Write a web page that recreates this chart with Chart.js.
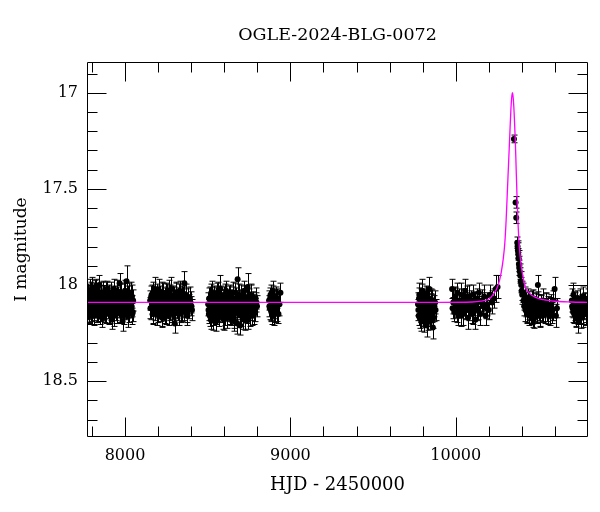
<!DOCTYPE html>
<html>
<head>
<meta charset="utf-8">
<title>OGLE-2024-BLG-0072</title>
<script src="https://cdn.jsdelivr.net/npm/chart.js@4.4.1/dist/chart.umd.min.js"></script>
<style>
  html, body { margin: 0; padding: 0; background: #fff; }
  canvas { display: block; }
</style>
</head>
<body>
<canvas id="lightCurve" width="600" height="512"></canvas>
<script>
// photometry, season by season (HJD - 2450000, I mag, error)
const hjd = [
  // 2017
  7772, 7776, 7779, 7783, 7786, 7790, 7794, 7797, 7801, 7805,
  7808, 7812, 7815, 7819, 7823, 7826, 7830, 7834, 7838, 7841,
  7845, 7849, 7853, 7857, 7861, 7865, 7869, 7873, 7878, 7882,
  7886, 7891, 7896, 7900, 7905, 7910, 7915, 7920, 7926, 7931,
  7937, 7943, 7949, 7955, 7961, 7967, 7973, 7979, 7985, 7991,
  7997, 8003, 8009, 8015, 8021, 8027, 8033, 8038, 8042, 8047,
  // 2018
  8152, 8157, 8161, 8166, 8170, 8175, 8179, 8184, 8188, 8193,
  8197, 8202, 8206, 8211, 8215, 8220, 8224, 8229, 8233, 8238,
  8242, 8247, 8251, 8256, 8261, 8266, 8271, 8276, 8281, 8286,
  8291, 8296, 8301, 8306, 8311, 8316, 8321, 8326, 8331, 8336,
  8341, 8347, 8353, 8359, 8365, 8371, 8377, 8384, 8392, 8402,
  // 2019
  8503, 8507, 8511, 8515, 8519, 8523, 8527, 8531, 8535, 8539,
  8543, 8547, 8551, 8555, 8559, 8563, 8567, 8571, 8576, 8581,
  8586, 8591, 8596, 8601, 8606, 8611, 8616, 8621, 8626, 8631,
  8636, 8641, 8646, 8651, 8656, 8661, 8666, 8671, 8676, 8681,
  8686, 8691, 8696, 8701, 8706, 8711, 8716, 8721, 8726, 8731,
  8736, 8741, 8746, 8752, 8758, 8764, 8770, 8777, 8785, 8795,
  // 2020
  8871, 8876, 8880, 8885, 8889, 8894, 8898, 8903, 8907, 8912,
  8917, 8922, 8928, 8934, 8940,
  // 2022
  9772, 9776, 9780, 9784, 9788, 9792, 9796, 9800, 9804, 9808,
  9812, 9816, 9820, 9824, 9828, 9832, 9836, 9840, 9844, 9848,
  9852, 9857, 9862, 9868, 9875,
  // 2023
  9978, 9985, 9991, 9997, 10003, 10009, 10015, 10021, 10027, 10033,
  10039, 10045, 10051, 10057, 10063, 10069, 10075, 10081, 10087, 10093,
  10099, 10105, 10112, 10119, 10126, 10133, 10140, 10148, 10156, 10164,
  10172, 10181, 10190, 10200, 10210, 10220, 10231, 10242, 10253,
  // 2024 (event)
  10352, 10362, 10366, 10372, 10374, 10376, 10378, 10380, 10382, 10384,
  10387, 10390, 10393, 10396, 10399, 10402, 10406, 10410, 10414, 10418,
  10422, 10426, 10431, 10436, 10441, 10446, 10451, 10456, 10461, 10467,
  10473, 10479, 10485, 10491, 10497, 10503, 10509, 10515, 10521, 10527,
  10533, 10540, 10547, 10554, 10561, 10568, 10575, 10582, 10590, 10598,
  10606, 10612,
  // 2025
  10702, 10707, 10712, 10717, 10722, 10727, 10732, 10737, 10742, 10747,
  10752, 10757, 10762, 10767, 10772, 10777, 10782, 10787, 10792, 10797
];

const imag = [
  18.06, 18.12, 18.09, 18.15, 18.03, 18.10, 18.07, 18.13, 18.01, 18.11,
  18.08, 18.16, 18.05, 18.09, 18.12, 18.02, 18.10, 18.14, 18.06, 18.11,
  18.00, 18.08, 18.13, 18.07, 18.17, 18.04, 18.10, 18.12, 18.06, 18.09,
  18.14, 18.03, 18.11, 18.08, 18.05, 18.13, 18.10, 18.18, 18.07, 18.02,
  18.12, 18.09, 18.15, 18.06, 18.11, 17.99, 18.14, 18.08, 18.19, 18.05,
  18.10, 18.13, 17.98, 18.16, 18.04, 18.11, 18.09, 18.12, 18.06, 18.14,

  18.08, 18.12, 18.05, 18.10, 18.14, 18.07, 18.02, 18.11, 18.09, 18.15,
  18.06, 18.12, 18.03, 18.10, 18.13, 18.08, 18.17, 18.05, 18.11, 18.09,
  18.14, 18.04, 18.10, 18.07, 18.12, 18.16, 18.06, 18.11, 18.02, 18.09,
  18.13, 18.07, 18.20, 18.10, 18.05, 18.12, 18.08, 18.15, 18.03, 18.11,
  18.09, 18.14, 18.06, 17.99, 18.12, 18.08, 18.16, 18.10, 18.07, 18.11,

  18.10, 18.15, 18.07, 18.12, 18.18, 18.04, 18.11, 18.09, 18.16, 18.06,
  18.13, 18.08, 18.19, 18.05, 18.11, 18.14, 18.07, 18.10, 18.02, 18.13,
  18.09, 18.17, 18.06, 18.12, 18.15, 18.03, 18.10, 18.08, 18.14, 18.11,
  18.05, 18.16, 18.09, 18.12, 18.07, 18.19, 18.04, 18.10, 18.13, 17.97,
  18.11, 18.08, 18.21, 18.06, 18.14, 18.09, 18.17, 18.03, 18.12, 18.10,
  18.15, 18.01, 18.18, 18.08, 18.12, 18.06, 18.16, 18.10, 18.13, 18.09,

  18.08, 18.12, 18.05, 18.14, 18.10, 18.03, 18.16, 18.09, 18.11, 18.06,
  18.13, 18.07, 18.15, 18.10, 18.04,

  18.10, 18.16, 18.05, 18.13, 18.08, 18.19, 18.03, 18.11, 18.14, 18.07,
  18.17, 18.09, 18.12, 18.21, 18.06, 18.10, 18.15, 18.02, 18.13, 18.08,
  18.18, 18.11, 18.22, 18.14, 18.09,

  18.02, 18.09, 18.14, 18.06, 18.11, 18.04, 18.16, 18.08, 18.12, 18.05,
  18.10, 18.15, 18.07, 18.03, 18.13, 18.09, 18.17, 18.06, 18.11, 18.08,
  18.14, 18.05, 18.10, 18.18, 18.07, 18.12, 18.04, 18.15, 18.09, 18.11,
  18.06, 18.16, 18.10, 18.13, 18.05, 18.09, 18.07, 18.02, 18.01,

  17.24, 17.57, 17.65, 17.78, 17.80, 17.82, 17.84, 17.86, 17.89, 17.91,
  17.93, 17.95, 17.98, 18.00, 18.03, 18.05, 18.04, 18.08, 18.11, 18.06,
  18.13, 18.09, 18.15, 18.07, 18.12, 18.16, 18.10, 18.14, 18.08, 18.17,
  18.11, 18.13, 18.09, 18.15, 18.00, 18.12, 18.16, 18.10, 18.14, 18.08,
  18.12, 18.15, 18.09, 18.13, 18.11, 18.16, 18.10, 18.14, 18.08, 18.02,
  18.16, 18.12,

  18.08, 18.12, 18.05, 18.15, 18.10, 18.17, 18.09, 18.13, 18.19, 18.11,
  18.07, 18.14, 18.10, 18.16, 18.06, 18.12, 18.09, 18.15, 18.11, 18.08
];

const ierr = [
  0.05, 0.06, 0.05, 0.05, 0.06, 0.05, 0.05, 0.06, 0.05, 0.06,
  0.05, 0.05, 0.06, 0.07, 0.05, 0.05, 0.06, 0.05, 0.05, 0.06,
  0.05, 0.05, 0.06, 0.05, 0.05, 0.06, 0.05, 0.06, 0.05, 0.05,
  0.06, 0.05, 0.05, 0.06, 0.05, 0.07, 0.05, 0.05, 0.06, 0.05,
  0.05, 0.06, 0.05, 0.05, 0.06, 0.05, 0.06, 0.05, 0.05, 0.06,
  0.05, 0.05, 0.08, 0.06, 0.05, 0.06, 0.05, 0.05, 0.06, 0.05,

  0.05, 0.06, 0.05, 0.05, 0.06, 0.05, 0.06, 0.05, 0.05, 0.06,
  0.05, 0.05, 0.06, 0.05, 0.06, 0.05, 0.05, 0.06, 0.05, 0.05,
  0.06, 0.05, 0.05, 0.06, 0.05, 0.05, 0.06, 0.05, 0.06, 0.05,
  0.05, 0.06, 0.05, 0.05, 0.06, 0.05, 0.05, 0.06, 0.05, 0.05,
  0.06, 0.05, 0.05, 0.06, 0.05, 0.06, 0.05, 0.05, 0.06, 0.05,

  0.06, 0.05, 0.06, 0.05, 0.05, 0.06, 0.05, 0.06, 0.05, 0.05,
  0.06, 0.05, 0.05, 0.06, 0.05, 0.05, 0.06, 0.05, 0.07, 0.05,
  0.05, 0.06, 0.05, 0.05, 0.06, 0.05, 0.06, 0.05, 0.05, 0.06,
  0.05, 0.05, 0.06, 0.05, 0.06, 0.05, 0.05, 0.06, 0.05, 0.06,
  0.06, 0.05, 0.05, 0.06, 0.05, 0.05, 0.06, 0.05, 0.06, 0.05,
  0.05, 0.07, 0.05, 0.06, 0.05, 0.06, 0.05, 0.05, 0.06, 0.05,

  0.05, 0.06, 0.05, 0.05, 0.06, 0.05, 0.05, 0.06, 0.05, 0.05,
  0.06, 0.05, 0.05, 0.06, 0.05,

  0.06, 0.05, 0.06, 0.05, 0.06, 0.05, 0.06, 0.05, 0.06, 0.05,
  0.05, 0.06, 0.05, 0.06, 0.05, 0.07, 0.05, 0.06, 0.05, 0.06,
  0.05, 0.06, 0.06, 0.05, 0.06,

  0.05, 0.06, 0.05, 0.05, 0.06, 0.05, 0.05, 0.06, 0.05, 0.06,
  0.05, 0.06, 0.05, 0.06, 0.05, 0.05, 0.06, 0.06, 0.05, 0.05,
  0.06, 0.05, 0.06, 0.05, 0.05, 0.06, 0.05, 0.06, 0.05, 0.05,
  0.06, 0.05, 0.06, 0.05, 0.05, 0.06, 0.05, 0.07, 0.06,

  0.02, 0.03, 0.03, 0.03, 0.03, 0.04, 0.03, 0.04, 0.04, 0.04,
  0.04, 0.04, 0.05, 0.04, 0.05, 0.05, 0.05, 0.05, 0.05, 0.05,
  0.06, 0.05, 0.05, 0.05, 0.06, 0.05, 0.05, 0.06, 0.05, 0.05,
  0.05, 0.06, 0.05, 0.05, 0.05, 0.05, 0.06, 0.05, 0.05, 0.06,
  0.05, 0.05, 0.05, 0.06, 0.05, 0.05, 0.05, 0.06, 0.05, 0.06,
  0.06, 0.05,

  0.06, 0.05, 0.06, 0.05, 0.06, 0.05, 0.06, 0.05, 0.06, 0.05,
  0.05, 0.06, 0.05, 0.06, 0.05, 0.06, 0.05, 0.06, 0.05, 0.06
];

// further baseline frames in the crowded seasons, all with the typical error
const denseHjd = [
  7774, 7778, 7781, 7785, 7788, 7792, 7796, 7799, 7803, 7807,
  7810, 7814, 7817, 7821, 7825, 7828, 7832, 7836, 7840, 7843,
  7847, 7851, 7855, 7859, 7863, 7867, 7871, 7876, 7880, 7884,
  7889, 7894, 7898, 7903, 7908, 7913, 7918, 7923, 7929, 7934,
  7940, 7946, 7952, 7958, 7964, 7970, 7976, 7982, 7988, 7994,
  8000, 8006, 8012, 8018, 8024, 8030, 8036, 8040, 8044, 8049,

  8154, 8159, 8163, 8168, 8172, 8177, 8181, 8186, 8190, 8195,
  8199, 8204, 8208, 8213, 8217, 8222, 8226, 8231, 8235, 8240,
  8244, 8249, 8253, 8258, 8263, 8268, 8273, 8278, 8283, 8288,
  8293, 8298, 8303, 8308, 8313, 8318, 8323, 8328, 8333, 8338,
  8344, 8350, 8356, 8362, 8368, 8374, 8380, 8388, 8396, 8405,

  8505, 8509, 8513, 8517, 8521, 8525, 8529, 8533, 8537, 8541,
  8545, 8549, 8553, 8557, 8561, 8565, 8569, 8573, 8578, 8583,
  8588, 8593, 8598, 8603, 8608, 8613, 8618, 8623, 8628, 8633,
  8638, 8643, 8648, 8653, 8658, 8663, 8668, 8673, 8678, 8683,
  8688, 8693, 8698, 8703, 8708, 8713, 8718, 8723, 8728, 8733,
  8738, 8743, 8749, 8755, 8761, 8767, 8773, 8781, 8790, 8798,

  8873, 8878, 8882, 8887, 8891, 8896, 8900, 8905, 8910, 8915,

  9774, 9778, 9782, 9786, 9790, 9794, 9798, 9802, 9806, 9810,
  9814, 9818, 9822, 9826, 9830, 9834, 9838, 9842, 9846, 9850,
  9854, 9859, 9865, 9871, 9878,

  9981, 9994, 10006, 10018, 10030, 10042, 10054, 10066, 10078, 10090,
  10102, 10115, 10130, 10160, 10185,

  10428, 10434, 10443, 10449, 10458, 10464, 10470, 10476, 10482, 10488,
  10494, 10500, 10506, 10512, 10518, 10530, 10544, 10557, 10571, 10586,

  10704, 10710, 10715, 10720, 10725, 10730, 10740, 10750, 10760, 10775,
  10785, 10795
];
const denseMag = [
  18.11, 18.05, 18.14, 18.08, 18.12, 18.04, 18.10, 18.07, 18.15, 18.09,
  18.13, 18.06, 18.11, 18.03, 18.08, 18.14, 18.05, 18.09, 18.12, 18.07,
  18.15, 18.10, 18.04, 18.12, 18.08, 18.13, 18.06, 18.09, 18.14, 18.04,
  18.08, 18.12, 18.06, 18.15, 18.10, 18.04, 18.13, 18.07, 18.11, 18.16,
  18.06, 18.13, 18.03, 18.10, 18.08, 18.14, 18.05, 18.12, 18.09, 18.15,
  18.03, 18.08, 18.12, 18.06, 18.14, 18.09, 18.04, 18.11, 18.15, 18.08,

  18.12, 18.06, 18.10, 18.15, 18.04, 18.09, 18.13, 18.07, 18.11, 18.05,
  18.14, 18.08, 18.12, 18.06, 18.10, 18.16, 18.04, 18.09, 18.13, 18.07,
  18.11, 18.15, 18.05, 18.12, 18.08, 18.03, 18.13, 18.09, 18.14, 18.06,
  18.10, 18.15, 18.08, 18.04, 18.12, 18.07, 18.13, 18.05, 18.10, 18.14,
  18.06, 18.09, 18.13, 18.11, 18.05, 18.14, 18.07, 18.12, 18.09, 18.13,

  18.13, 18.07, 18.16, 18.09, 18.05, 18.14, 18.08, 18.18, 18.11, 18.06,
  18.10, 18.15, 18.07, 18.13, 18.09, 18.04, 18.16, 18.12, 18.08, 18.06,
  18.14, 18.10, 18.18, 18.05, 18.09, 18.13, 18.17, 18.11, 18.06, 18.15,
  18.12, 18.08, 18.14, 18.04, 18.17, 18.10, 18.13, 18.07, 18.20, 18.09,
  18.05, 18.15, 18.11, 18.16, 18.08, 18.13, 18.06, 18.18, 18.09, 18.14,
  18.07, 18.12, 18.10, 18.16, 18.05, 18.13, 18.09, 18.15, 18.07, 18.11,

  18.11, 18.07, 18.13, 18.09, 18.15, 18.06, 18.12, 18.10, 18.14, 18.08,

  18.13, 18.07, 18.17, 18.10, 18.14, 18.05, 18.12, 18.16, 18.08, 18.19,
  18.11, 18.06, 18.15, 18.09, 18.13, 18.18, 18.07, 18.12, 18.16, 18.10,
  18.14, 18.08, 18.17, 18.11, 18.13,

  18.12, 18.07, 18.14, 18.10, 18.16, 18.08, 18.12, 18.06, 18.13, 18.10,
  18.15, 18.09, 18.13, 18.08, 18.12,

  18.11, 18.14, 18.09, 18.13, 18.11, 18.15, 18.08, 18.17, 18.12, 18.10,
  18.14, 18.09, 18.13, 18.16, 18.11, 18.14, 18.10, 18.15, 18.12, 18.13,

  18.11, 18.14, 18.09, 18.13, 18.16, 18.11, 18.15, 18.12, 18.17, 18.10,
  18.14, 18.12
];
const denseErr = 0.055;

// microlensing model
const modelHjd = [
  7770, 9900, 10100, 10150, 10206, 10230, 10250, 10265, 10276, 10288,
  10297, 10305, 10312, 10320, 10326, 10333, 10338, 10343, 10348, 10353,
  10360, 10365, 10370, 10376, 10383, 10393, 10407, 10420, 10447, 10480,
  10530, 10600, 10700, 10800
];
const modelMag = [
  18.09, 18.09, 18.088, 18.084, 18.07, 18.045, 18.015, 17.975, 17.93, 17.86,
  17.78, 17.66, 17.52, 17.36, 17.24, 17.10, 17.03, 17.00, 17.03, 17.10,
  17.24, 17.38, 17.52, 17.66, 17.78, 17.88, 17.957, 18.01, 18.043, 18.063,
  18.076, 18.084, 18.088, 18.09
];

// axis ticks
const xTicks = [8000, 9000, 10000];
const xMinor = [7800, 8000, 8200, 8400, 8600, 8800, 9000, 9200, 9400, 9600,
                9800, 10000, 10200, 10400, 10600];
const yTicks = [17, 17.5, 18, 18.5];
const yMinor = [16.9, 17.0, 17.1, 17.2, 17.3, 17.4, 17.5, 17.6, 17.7, 17.8,
                17.9, 18.0, 18.1, 18.2, 18.3, 18.4, 18.5, 18.6, 18.7];

const titleText = 'OGLE-2024-BLG-0072';
const serif = "'DejaVu Serif', 'Liberation Serif', serif";

const points = hjd.map((t, i) => ({ x: t, y: imag[i], e: ierr[i] || 0.05 }))
  .concat(denseHjd.map((t, i) => ({ x: t, y: denseMag[i], e: denseErr })));
const model = modelHjd.map((t, i) => ({ x: t, y: modelMag[i] }));

// vertical error bars with small caps, under the points
const errorBars = {
  id: 'errorBars',
  beforeDatasetsDraw(chart) {
    const { ctx, chartArea, scales: { x, y } } = chart;
    ctx.save();
    ctx.beginPath();
    ctx.rect(chartArea.left, chartArea.top, chartArea.width, chartArea.height);
    ctx.clip();
    ctx.strokeStyle = '#000';
    ctx.lineWidth = 1;
    ctx.beginPath();
    points.forEach(p => {
      const px = Math.round(x.getPixelForValue(p.x)) + 0.5;
      const y1 = y.getPixelForValue(p.y - p.e);
      const y2 = y.getPixelForValue(p.y + p.e);
      ctx.moveTo(px, y1); ctx.lineTo(px, y2);
      ctx.moveTo(px - 3, y1); ctx.lineTo(px + 3, y1);
      ctx.moveTo(px - 3, y2); ctx.lineTo(px + 3, y2);
    });
    ctx.stroke();
    ctx.restore();
  }
};

// box round the plot with inward ticks on all four sides, title over the plot
const frameTicks = {
  id: 'frameTicks',
  afterDraw(chart) {
    const { ctx, chartArea: a, scales: { x, y } } = chart;
    const L = Math.round(a.left) + 0.5, R = Math.round(a.right) - 0.5;
    const T = Math.round(a.top) + 0.5, B = Math.round(a.bottom) - 0.5;
    ctx.save();
    ctx.strokeStyle = '#000';
    ctx.lineWidth = 1;
    ctx.beginPath();
    ctx.rect(L, T, R - L, B - T);
    const xt = (v, len) => {
      const px = Math.round(x.getPixelForValue(v)) + 0.5;
      ctx.moveTo(px, B); ctx.lineTo(px, B - len);
      ctx.moveTo(px, T); ctx.lineTo(px, T + len);
    };
    const yt = (v, len) => {
      const py = Math.round(y.getPixelForValue(v)) + 0.5;
      ctx.moveTo(L, py); ctx.lineTo(L + len, py);
      ctx.moveTo(R, py); ctx.lineTo(R - len, py);
    };
    xMinor.forEach(v => xt(v, 10));
    xTicks.forEach(v => xt(v, 19));
    yMinor.forEach(v => yt(v, 10));
    yTicks.forEach(v => yt(v, 19));
    ctx.stroke();

    ctx.fillStyle = '#000';
    ctx.font = '17.5px ' + serif;
    ctx.textAlign = 'center';
    ctx.textBaseline = 'middle';
    ctx.fillText(titleText, (a.left + a.right) / 2, 35);
    ctx.restore();
  }
};

new Chart(document.getElementById('lightCurve'), {
  type: 'scatter',
  data: {
    datasets: [
      {
        label: 'model',
        data: model,
        showLine: true,
        borderColor: '#ff00ff',
        borderWidth: 1.3,
        pointRadius: 0,
        cubicInterpolationMode: 'monotone',
        fill: false,
        order: 0
      },
      {
        label: 'OGLE I',
        data: points,
        pointRadius: 3,
        pointBackgroundColor: '#000',
        pointBorderWidth: 0,
        order: 1
      }
    ]
  },
  options: {
    responsive: false,
    animation: false,
    layout: { padding: { top: 62, right: 12 } },
    plugins: {
      legend: { display: false },
      tooltip: { enabled: false },
      title: { display: false }
    },
    scales: {
      x: {
        type: 'linear',
        min: 7770,
        max: 10800,
        grid: { display: false, drawTicks: false },
        border: { display: false },
        afterBuildTicks: s => { s.ticks = xTicks.map(v => ({ value: v })); },
        afterFit: s => { s.height = 75; },
        ticks: {
          color: '#000',
          padding: 9,
          maxRotation: 0,
          font: { family: serif, size: 16 },
          callback: v => String(v)
        },
        title: {
          display: true,
          text: 'HJD - 2450000',
          color: '#000',
          font: { family: serif, size: 18, lineHeight: 1.2 },
          padding: { top: 0, bottom: 16 }
        }
      },
      y: {
        type: 'linear',
        reverse: true,
        min: 16.84,
        max: 18.79,
        grid: { display: false, drawTicks: false },
        border: { display: false },
        afterBuildTicks: s => { s.ticks = yTicks.map(v => ({ value: v })); },
        afterFit: s => { s.width = 87; },
        ticks: {
          color: '#000',
          padding: 9,
          font: { family: serif, size: 16 },
          callback: v => String(v)
        },
        title: {
          display: true,
          text: 'I magnitude',
          color: '#000',
          font: { family: serif, size: 17, lineHeight: 1.2 },
          padding: { top: 11, bottom: 0 }
        }
      }
    }
  },
  plugins: [errorBars, frameTicks]
});
</script>
</body>
</html>
